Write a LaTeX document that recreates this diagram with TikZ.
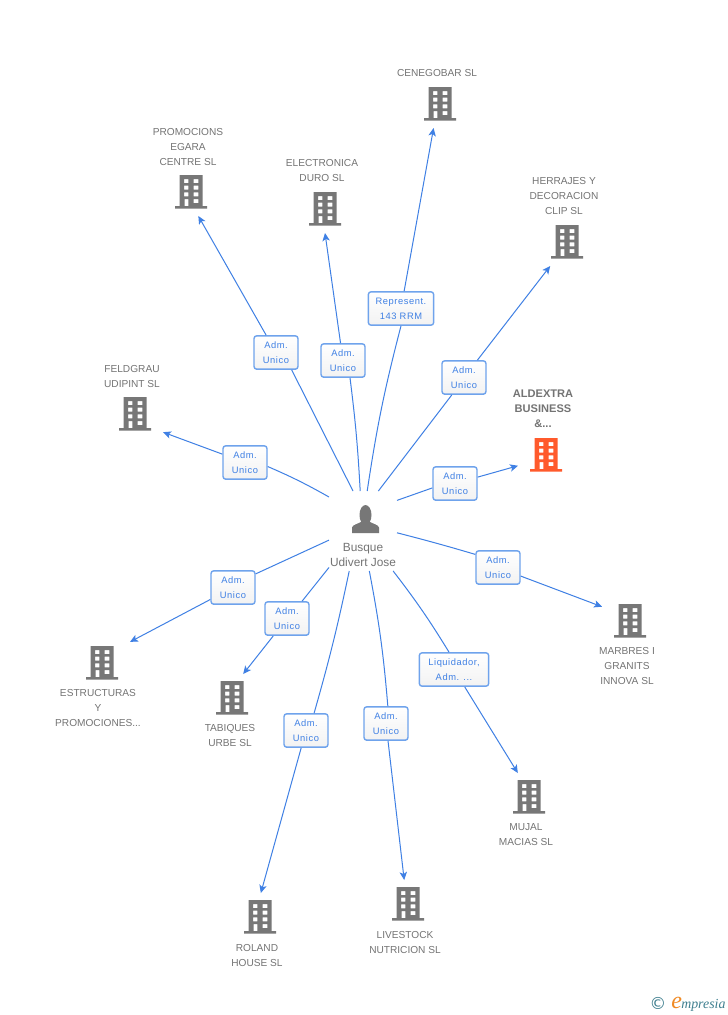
\documentclass[tikz,border=0pt]{standalone}
\usepackage{fontspec}
\setmainfont{Liberation Sans}
\newfontfamily\boxfont[LetterSpace=6]{Liberation Sans}
\newfontfamily\logofont{Liberation Serif}
\newfontfamily\copyfont{DejaVu Sans}
\usetikzlibrary{arrows.meta}

\definecolor{linkblue}{HTML}{3F80E4}
\definecolor{boxblue}{HTML}{6FA3EC}
\definecolor{compgrey}{HTML}{777777}
\definecolor{txtgrey}{HTML}{747474}
\definecolor{hotorange}{HTML}{FF5A2C}
\definecolor{logoteal}{HTML}{3F7F8F}
\definecolor{logoorange}{HTML}{F08A24}

\tikzset{
	link/.style={draw=linkblue, line width=.75pt},
	arrowlink/.style={link, -{Stealth[length=6pt,width=5.5pt,inset=1.5pt]}},
	rolebox/.style={draw=boxblue, top color=white, bottom color=black!5, line width=1.05pt, rounded corners=2pt, minimum height=25pt,
		inner sep=0pt, align=center, text=linkblue, font=\boxfont\fontsize{7}{11.25}\selectfont},
	compspot/.style={minimum width=42pt, minimum height=36pt, inner sep=0pt, outer sep=0pt},
	compname/.style={align=center, text=txtgrey, inner sep=0pt, font=\fontsize{7.6}{11.25}\selectfont},
	building/.pic={
		\fill[pic actions, even odd rule] (-11.5,-17) rectangle (11.5,14) (-16,14) rectangle (16,16.5)
			(-7,-13) rectangle (-2.7,-9) (2.7,-13) rectangle (7.3,-9)
			(-7,-6.3) rectangle (-2.7,-2.3) (2.7,-6.3) rectangle (7.3,-2.3)
			(-7,0.3) rectangle (-2.7,4.3) (2.7,0.3) rectangle (7.3,4.3)
			(-6.5,7) rectangle (-2.7,14) (2.7,7) rectangle (7.3,11);
	},
	personicon/.pic={
		\fill[compgrey] (0,-5) ellipse (6 and 10);
		\fill[compgrey] (-13.5,13) -- (-13.5,7.5) .. controls (-13,4.5) and (-7,4) .. (-3,1) -- (3,1)
			.. controls (7,4) and (13,4.5) .. (13.5,7.5) -- (13.5,13) -- cycle;
	},
}

% name, icon position, text position, text
\newcommand{\company}[6]{
	\node[compspot] (#1) at (#2,#3) {};
	\pic[fill=compgrey] at (#2,#3) {building};
	\node[compname] (#1 name) at (#4,#5) {#6};
}
% name, position, width, text
\newcommand{\rolenode}[5]{
	\node[rolebox, minimum width=#4pt] (#1) at (#2,#3) {#5};
}

\begin{document}
\begin{tikzpicture}[x=.75pt, y=-.75pt]
	\fill[white] (0,0) rectangle (728,1015);
	\useasboundingbox (0,0) rectangle (728,1015);

	% companies
	\company{cenegobar}{440}{104}{437}{73.5}{CENEGOBAR SL}
	\company{promocions}{191}{192}{188}{147.5}{PROMOCIONS\\EGARA\\CENTRE SL}
	\company{electronica}{325}{209}{322}{171}{ELECTRONICA\\DURO SL}
	\company{herrajes}{567}{242}{564}{196.5}{HERRAJES Y\\DECORACION\\CLIP SL}
	\company{feldgrau}{135}{414}{132}{377}{FELDGRAU\\UDIPINT  SL}
	\company{marbres}{630}{621}{627}{666.5}{MARBRES I\\GRANITS\\INNOVA SL}
	\company{estructuras}{102}{663}{98}{708.5}{ESTRUCTURAS\\Y\\PROMOCIONES...}
	\company{tabiques}{232}{698}{230}{736}{TABIQUES\\URBE SL}
	\company{mujal}{529}{797}{526}{835}{MUJAL\\MACIAS  SL}
	\company{livestock}{408}{904}{405}{942}{LIVESTOCK\\NUTRICION  SL}
	\company{roland}{260}{917}{257}{955}{ROLAND\\HOUSE SL}
	\node[compspot] (aldextra) at (546,455) {};
	\pic[fill=hotorange] at (546,455) {building};
	\node[compname, font=\bfseries\fontsize{8.3}{11.25}\selectfont] (aldextra name) at (543,408.5) {ALDEXTRA\\BUSINESS\\\&...};

	% person
	\node[minimum width=51pt, minimum height=60pt, inner sep=0pt, outer sep=0pt] (busque) at (363,531) {};
	\pic at (365.5,520) {personicon};
	\node[compname, font=\fontsize{8.9}{11.25}\selectfont] (busque name) at (363,554.5) {Busque\\Udivert Jose};

	% roles
	\rolenode{rcenegobar}{401}{308.5}{49}{Represent.\\143 RRM}
	\rolenode{rpromocions}{276}{352.5}{33}{Adm.\\Unico}
	\rolenode{relectronica}{343}{360.5}{33}{Adm.\\Unico}
	\rolenode{rherrajes}{464}{377.5}{33}{Adm.\\Unico}
	\rolenode{rfeldgrau}{245}{462.5}{33}{Adm.\\Unico}
	\rolenode{raldextra}{455}{483.5}{33}{Adm.\\Unico}
	\rolenode{rmarbres}{498}{567.5}{33}{Adm.\\Unico}
	\rolenode{rmujal}{454}{669.5}{52}{Liquidador,\\Adm. ...}
	\rolenode{rlivestock}{386}{723.5}{33}{Adm.\\Unico}
	\rolenode{rroland}{306}{730.5}{33}{Adm.\\Unico}
	\rolenode{rtabiques}{287}{618.5}{33}{Adm.\\Unico}
	\rolenode{restructuras}{233}{587.5}{33}{Adm.\\Unico}

	% connectors
	\foreach \comp/\sa/\bnd/\ra/\ea in {cenegobar/84/3/-90/-105, promocions/104/0/-48/-73, electronica/94/-2/-68/-90,
		herrajes/69/0/-125/-125, feldgrau/135/-3/-10/-33, aldextra/42/0/-169/-159, marbres/-3/1/150/153,
		mujal/-53/3/106/115, livestock/-81/3/84/99, roland/-109/2/65/88, tabiques/-133/0/49/65, estructuras/195/0/31/37} {
		\draw[link] (busque.\sa) to[bend left=\bnd] (r\comp.\ra);
		\draw[arrowlink] (r\comp) -- (\comp.\ea);
	}

	% logo
	\node[text=logoteal, inner sep=0pt, font=\copyfont\fontsize{12.5}{14}\selectfont] (copy) at (658,1003.5) {©};
	\node[anchor=base west, inner sep=0pt, text=logoorange, font=\logofont\itshape\fontsize{18}{18}\selectfont] (logoe) at (671,1008.5) {e};
	\node[anchor=base west, inner sep=0pt, text=logoteal, font=\logofont\itshape\fontsize{10.4}{12}\selectfont] (logotxt) at (681,1008.5) {mpresia};
\end{tikzpicture}
\end{document}
